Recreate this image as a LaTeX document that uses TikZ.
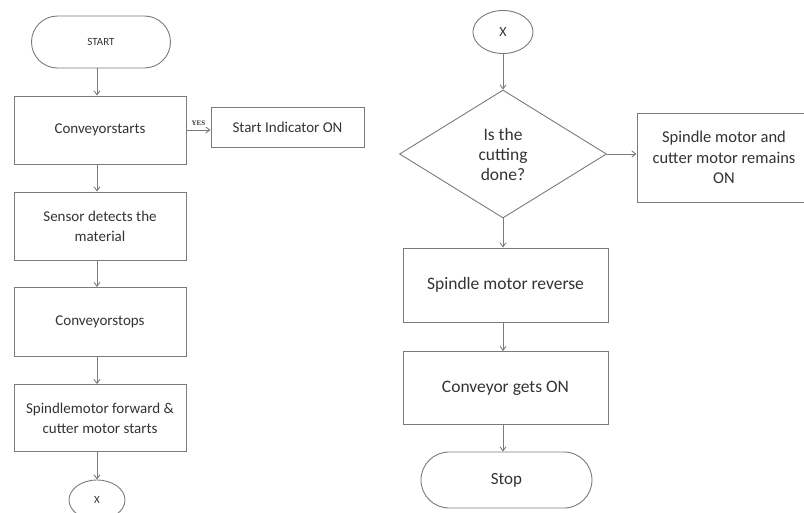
\documentclass[tikz,border=0pt]{standalone}
\usepackage{fontspec}
\setmainfont{Carlito}
\newfontfamily\yesfont{Liberation Serif}
\usetikzlibrary{shapes.geometric,shapes.misc,arrows.meta}
\definecolor{lineg}{HTML}{7A7A7A}
\definecolor{textg}{HTML}{333333}
\tikzset{
  base/.style={draw=lineg,line width=0.9pt,text=textg,align=center,inner sep=0pt},
  procbox/.style={base,rectangle,font=\fontsize{15}{20}\selectfont},
  bigbox/.style={base,rectangle,font=\fontsize{17.5}{20.5}\selectfont},
  termnode/.style={base,rounded rectangle},
  connnode/.style={base,ellipse},
  decnode/.style={base,diamond,font=\fontsize{17.5}{20}\selectfont},
  flow/.style={draw=lineg,line width=0.9pt,-{Straight Barb[length=4pt,width=6pt]}}
}
\begin{document}
\begin{tikzpicture}[x=1pt,y=-1pt]
\useasboundingbox (0,0) rectangle (804,512);
\clip (0,0) rectangle (804,512);
% left column
\node[termnode,minimum width=139pt,minimum height=52pt,font=\fontsize{11}{13}\selectfont] (start) at (101,42) {START};
\node[procbox,minimum width=172pt,minimum height=68pt] (cs) at (100,130) {Conveyorstarts};
\node[procbox,minimum width=153pt,minimum height=40pt] (ind) at (287.5,127) {Start Indicator ON};
\node[procbox,minimum width=172pt,minimum height=68pt] (sens) at (100,226) {Sensor detects the\\material};
\node[procbox,minimum width=172pt,minimum height=69pt] (stops) at (100,322) {Conveyorstops};
\node[procbox,minimum width=172pt,minimum height=67pt] (fwd) at (100,418) {Spindlemotor forward \&\\cutter motor starts};
\node[connnode,minimum width=56pt,minimum height=40pt,font=\fontsize{11}{13}\selectfont] (x1) at (97,500) {X};
% right column
\node[connnode,minimum width=60pt,minimum height=43pt,font=\fontsize{14}{16}\selectfont] (x2) at (503,32) {X};
\node[decnode,minimum width=207pt,minimum height=128pt] (dia) at (503,154) {Is the\\cutting\\done?};
\node[bigbox,minimum width=190pt,minimum height=89pt] (rembox) at (732,157.5) {};
\node[bigbox,draw=none,font=\fontsize{16.5}{20.5}\selectfont] (rem) at (724,157.5) {Spindle motor and\\cutter motor remains\\ON};
\node[bigbox,minimum width=205pt,minimum height=74pt] (rev) at (505.5,285) {Spindle motor reverse};
\node[bigbox,minimum width=205pt,minimum height=73pt] (on) at (505.5,388) {Conveyor gets ON};
\node[termnode,minimum width=171pt,minimum height=56pt,font=\fontsize{17}{20}\selectfont] (stop) at (506.5,480) {Stop};
% connectors left
\coordinate (lx) at (97,0);
\draw[flow] (start.south -| lx) -- (cs.north -| lx);
\draw[flow] (cs.east) -- node[above=1pt,font=\yesfont\bfseries\fontsize{7}{8}\selectfont,text=textg]{YES} (cs.east -| ind.west);
\draw[flow] (cs.south -| lx) -- (sens.north -| lx);
\draw[flow] (sens.south -| lx) -- (stops.north -| lx);
\draw[flow] (stops.south -| lx) -- (fwd.north -| lx);
\draw[flow] (fwd.south -| lx) -- (x1.north);
% connectors right
\draw[flow] (x2.south) -- (dia.north);
\draw[flow] (dia.east) -- (dia.east -| rembox.west);
\draw[flow] (dia.south) -- (dia.south |- rev.north);
\draw[flow] (rev.south -| dia.south) -- (dia.south |- on.north);
\draw[flow] (on.south -| dia.south) -- (dia.south |- stop.north);
\end{tikzpicture}
\end{document}
